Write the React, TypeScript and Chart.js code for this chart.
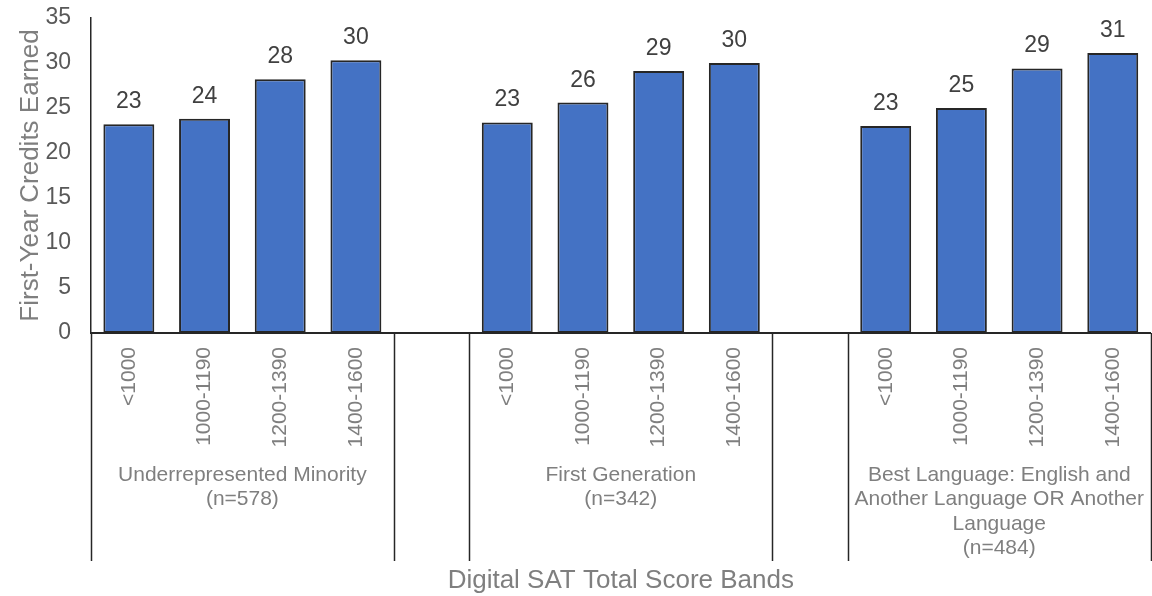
import React, { useEffect, useRef } from 'react';
import { Chart, registerables } from 'chart.js';

Chart.register(...registerables);

const scoreBands: string[] = ['<1000', '1000-1190', '1200-1390', '1400-1600'];
const groupLabels: string[][] = [
  ['Underrepresented Minority', '(n=578)'],
  ['First Generation', '(n=342)'],
  ['Best Language: English and', 'Another Language OR Another', 'Language', '(n=484)'],
];
const urmValues: number[] = [23.2, 23.8, 28.2, 30.3];
const firstGenValues: number[] = [23.4, 25.6, 29.1, 30.0];
const bestLangValues: number[] = [23.0, 25.0, 29.4, 31.1];
const yMin = 0;
const yMax = 35;
const yStep = 5;
const yTitle = 'First-Year Credits Earned';
const xTitle = 'Digital SAT Total Score Bands';

const categories: string[] = [...scoreBands, '', ...scoreBands, '', ...scoreBands];
const values: (number | null)[] = [...urmValues, null, ...firstGenValues, null, ...bestLangValues];

const FONT = '"Liberation Sans", Arial, sans-serif';

const overlayPlugin = {
  id: 'overlay',
  afterDraw(chart: any) {
    const ctx = chart.ctx as CanvasRenderingContext2D;
    const xs = chart.scales.x;
    const area = chart.chartArea;
    const slot = xs.width / categories.length;
    const lineBottom = 561;
    ctx.save();
    ctx.strokeStyle = '#262626';
    ctx.lineWidth = 1.5;
    const groupsCount = groupLabels.length;
    for (let g = 0; g < groupsCount; g++) {
      const first = g * (scoreBands.length + 1);
      const last = first + scoreBands.length - 1;
      const leftX = xs.getPixelForValue(first) - slot / 2;
      const rightX = xs.getPixelForValue(last) + slot / 2;
      [leftX, rightX].forEach((px) => {
        ctx.beginPath();
        ctx.moveTo(Math.round(px) + 0.5, area.bottom);
        ctx.lineTo(Math.round(px) + 0.5, lineBottom);
        ctx.stroke();
      });
      ctx.fillStyle = '#7f7f7f';
      ctx.font = `21px ${FONT}`;
      ctx.textAlign = 'center';
      ctx.textBaseline = 'middle';
      const cx = (leftX + rightX) / 2;
      groupLabels[g].forEach((line, i) => {
        ctx.fillText(line, cx, area.bottom + 142 + i * 24.5);
      });
    }
    const meta = chart.getDatasetMeta(0);
    ctx.fillStyle = '#404040';
    ctx.font = `23px ${FONT}`;
    ctx.textAlign = 'center';
    ctx.textBaseline = 'alphabetic';
    meta.data.forEach((el: any, i: number) => {
      const v = values[i];
      if (v === null || v === undefined) return;
      ctx.fillText(String(Math.round(v)), el.x, el.y - 16);
    });
    ctx.restore();
  },
};

export default function App() {
  const ref = useRef<HTMLCanvasElement | null>(null);
  useEffect(() => {
    document.body.style.margin = '0';
    if (!ref.current) return;
    const chart = new Chart(ref.current, {
      type: 'bar',
      data: {
        labels: categories,
        datasets: [
          {
            data: values as any,
            backgroundColor: '#4472C4',
            borderColor: '#262626',
            borderWidth: 2,
            borderSkipped: false,
            barPercentage: 0.673,
            categoryPercentage: 1,
          },
        ],
      },
      options: {
        responsive: false,
        animation: false,
        layout: { padding: { top: 18, right: 1, bottom: 0, left: 0 } },
        plugins: {
          legend: { display: false },
          tooltip: { enabled: false },
        },
        scales: {
          x: {
            grid: { display: false, drawTicks: false },
            border: { display: true, color: '#262626', width: 2 },
            ticks: {
              autoSkip: false,
              minRotation: 90,
              maxRotation: 90,
              padding: 14,
              color: '#7f7f7f',
              font: { family: FONT, size: 21 },
            },
            title: {
              display: true,
              text: xTitle,
              color: '#7f7f7f',
              font: { family: FONT, size: 26 },
              padding: { top: 0, bottom: 0 },
            },
            afterFit: (scale: any) => {
              scale.height = 263;
            },
          },
          y: {
            min: yMin,
            max: yMax,
            grid: { display: false, drawTicks: false },
            border: { display: true, color: '#262626', width: 1.5 },
            ticks: {
              stepSize: yStep,
              padding: 20,
              color: '#595959',
              font: { family: FONT, size: 23 },
            },
            title: {
              display: true,
              text: yTitle,
              color: '#7f7f7f',
              font: { family: FONT, size: 26 },
              padding: { top: 15, bottom: 0 },
            },
            afterFit: (scale: any) => {
              scale.width = 91;
              scale.paddingTop = 0;
              scale.paddingBottom = 0;
            },
          },
        },
      },
      plugins: [overlayPlugin],
    });
    return () => chart.destroy();
  }, []);
  return (
    <div style={{ width: 1152, height: 596 }}>
      <canvas ref={ref} width={1152} height={596} style={{ display: 'block' }} />
    </div>
  );
}
